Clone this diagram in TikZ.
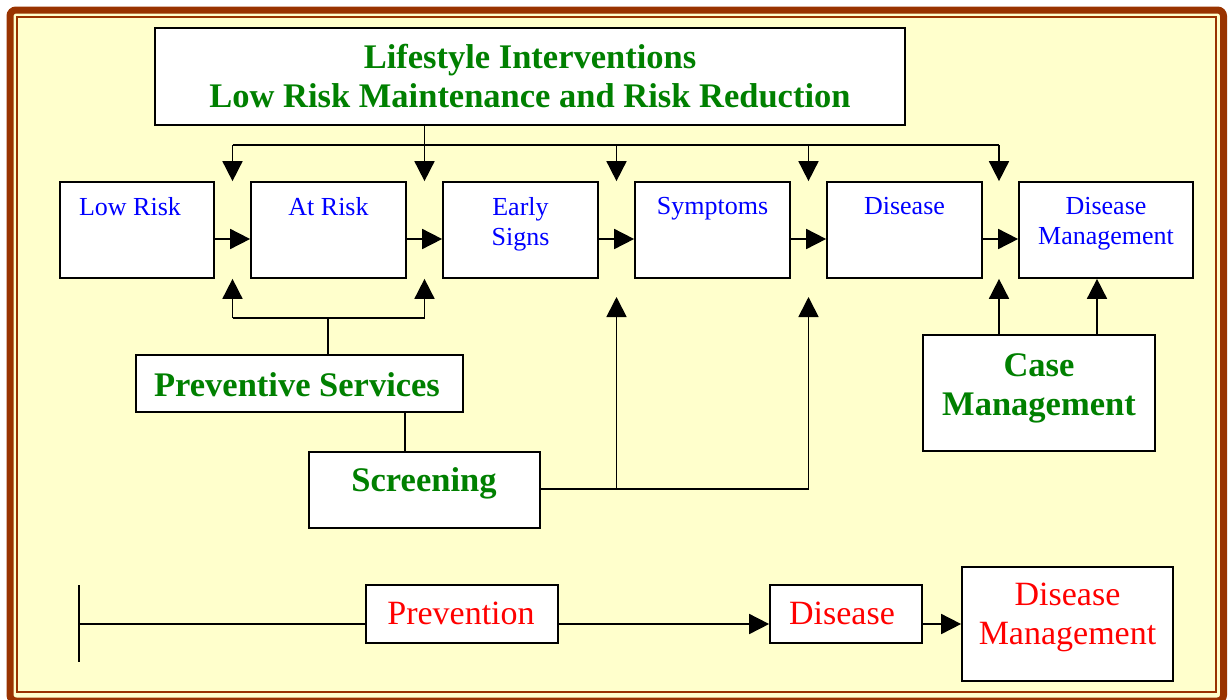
\documentclass[tikz,border=0pt]{standalone}
\usepackage{fontspec}
\setmainfont{Liberation Serif}
\usetikzlibrary{arrows.meta}
\definecolor{framec}{RGB}{153,51,0}
\definecolor{paper}{RGB}{255,255,204}
\definecolor{dgreen}{RGB}{0,128,0}
\tikzset{
  box/.style={draw=black, line width=1.7pt, fill=white, inner sep=0pt},
  gtxt/.style={text=dgreen, font=\fontsize{34.5}{39.5}\selectfont\bfseries, align=center, inner sep=0pt, anchor=north},
  btxt/.style={text=blue, font=\fontsize{26}{30}\selectfont, align=center, inner sep=0pt, anchor=north},
  rtxt/.style={text=red, font=\fontsize{34}{39}\selectfont, align=center, inner sep=0pt, anchor=north},
  conn/.style={line width=1.7pt},
  arr/.style={conn, -{Triangle[length=20pt,width=20pt]}},
}
\begin{document}
\begin{tikzpicture}[x=1pt,y=-1pt]
\useasboundingbox (0,0) rectangle (1229,699);
% frame
\fill[paper, rounded corners=6pt] (10,10) rectangle (1223.5,701);
\draw[framec, line width=7pt, rounded corners=6pt] (10,10) rectangle (1223.5,701);
\draw[framec, line width=2pt] (17,17) rectangle (1216,692);

% boxes
\node[box, minimum width=750, minimum height=97] (ls) at (530,76.5) {};
\node[box, minimum width=154, minimum height=96] (lr) at (137,230) {};
\node[box, minimum width=155, minimum height=96] (ar) at (328.5,230) {};
\node[box, minimum width=155, minimum height=96] (es) at (520.5,230) {};
\node[box, minimum width=155, minimum height=96] (sy) at (712.5,230) {};
\node[box, minimum width=155, minimum height=96] (di) at (904.5,230) {};
\node[box, minimum width=174, minimum height=96] (dm) at (1106,230) {};
\node[box, minimum width=327, minimum height=57] (ps) at (299.5,383.5) {};
\node[box, minimum width=231, minimum height=76] (sc) at (424.5,490) {};
\node[box, minimum width=232, minimum height=116] (cm) at (1039,393) {};
\node[box, minimum width=192, minimum height=58] (pv) at (462,614) {};
\node[box, minimum width=152, minimum height=58] (dd) at (846,614) {};
\node[box, minimum width=211, minimum height=114] (dg) at (1067.5,624) {};

% texts
\node[gtxt] (tls) at (530,44) {Lifestyle Interventions\\Low Risk Maintenance and Risk Reduction};
\node[btxt] (tlr) at (130,197) {Low Risk};
\node[btxt] (tar) at (328.5,197) {At Risk};
\node[btxt] (tes) at (520.5,197) {Early\\Signs};
\node[btxt] (tsy) at (712.5,197) {Symptoms};
\node[btxt] (tdi) at (904.5,197) {Disease};
\node[btxt] (tdm) at (1106,197) {Disease\\Management};
\node[gtxt] (tps) at (297,372) {Preventive Services};
\node[gtxt] (tsc) at (424,467) {Screening};
\node[gtxt] (tcm) at (1039,353) {Case\\Management};
\node[rtxt] (tpv) at (461,602) {Prevention};
\node[rtxt] (tdd) at (842,602) {Disease};
\node[rtxt] (tdg) at (1067.5,583) {Disease\\Management};

% top bus
\coordinate (b1) at (232.5,145);
\coordinate (b2) at (424.5,145);
\coordinate (b3) at (616.5,145);
\coordinate (b4) at (808.5,145);
\coordinate (b5) at (999,145);
\draw[conn] (ls.south -| b2) -- (b2);
\draw[conn] (b1) -- (b5);
\foreach \b in {b1,b2,b3,b4,b5} \draw[arr] (\b) -- (\b |- lr.north);

% horizontal flow
\foreach \a/\c in {lr/ar, ar/es, es/sy, sy/di, di/dm}
  \draw[arr] ([yshift=-9pt]\a.east) -- ([yshift=-9pt]\c.west);

% preventive services
\coordinate (p0) at (328,318);
\coordinate (p1) at (232.5,318);
\coordinate (p2) at (424.5,318);
\draw[conn] (p1) -- (p2);
\draw[conn] (p0) -- (p0 |- ps.north);
\draw[arr] (p1) -- (p1 |- lr.south);
\draw[arr] (p2) -- (p2 |- lr.south);
\coordinate (q) at (405,412);
\draw[conn] (ps.south -| q) -- (sc.north -| q);

% screening
\coordinate (s1) at (616.5,489);
\coordinate (s2) at (808.5,489);
\coordinate (t1) at (616.5,297);
\coordinate (t2) at (808.5,297);
\draw[conn] (sc.east |- s1) -- (s2);
\draw[arr] (s1) -- (t1);
\draw[arr] (s2) -- (t2);

% case management
\coordinate (c1) at (999,335);
\coordinate (c2) at (1097,335);
\draw[arr] (c1 |- cm.north) -- (c1 |- dm.south);
\draw[arr] (c2 |- cm.north) -- (c2 |- dm.south);

% bottom timeline
\coordinate (m1) at (79,585);
\coordinate (m2) at (79,662);
\draw[conn] (m1) -- (m2);
\draw[conn] (m1 |- dg.west) -- (pv.west |- dg.west);
\draw[arr] (pv.east |- dg.west) -- (dd.west |- dg.west);
\draw[arr] (dd.east |- dg.west) -- (dg.west);
\end{tikzpicture}
\end{document}
